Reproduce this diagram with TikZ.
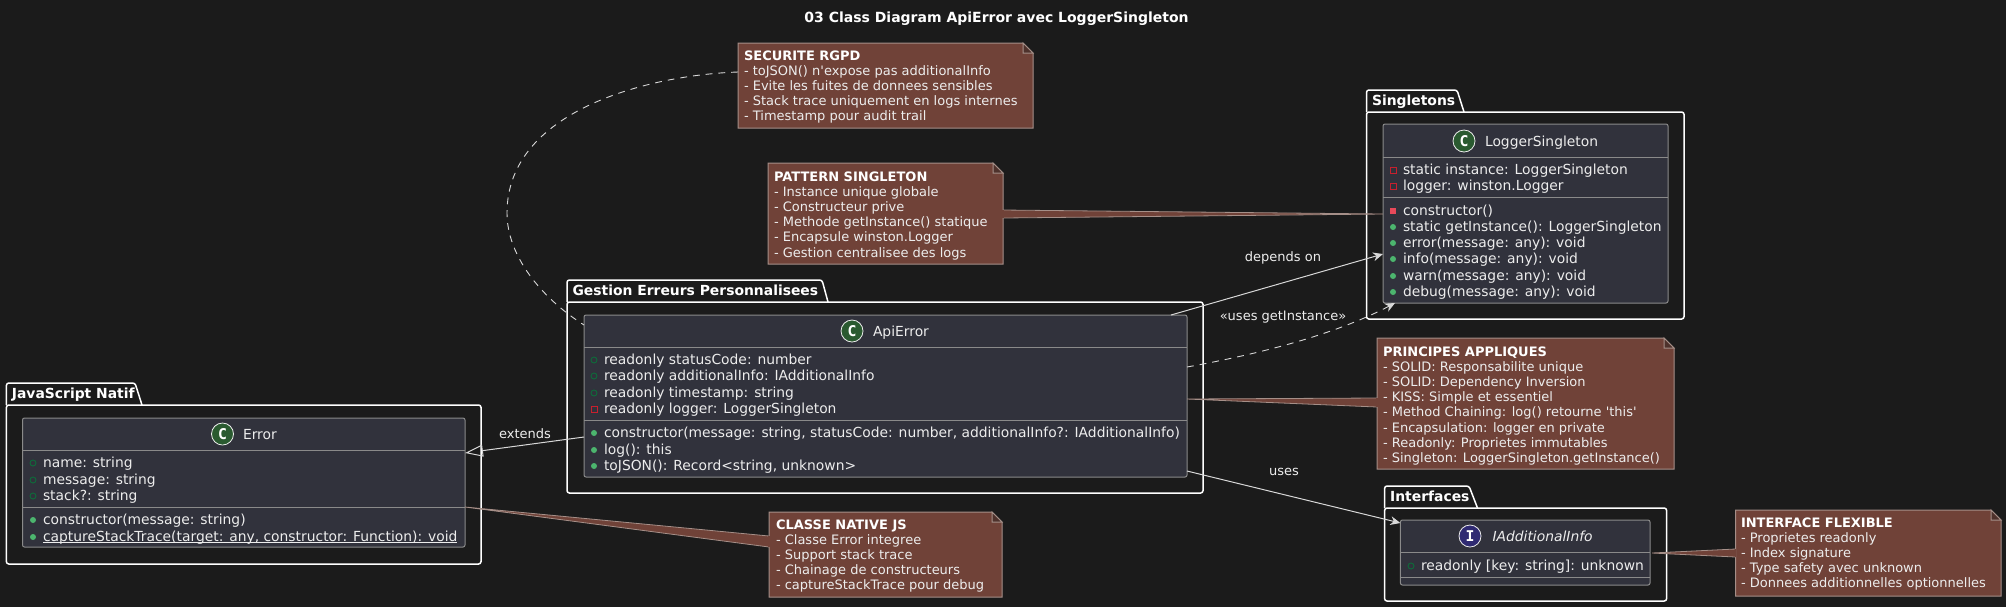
\documentclass[tikz,border=0pt]{standalone}
\usepackage{fontspec}
\setmainfont{DejaVu Sans}
\newfontfamily\glyphfont{DejaVu Sans Mono}
\newfontfamily\straightq{DejaVu Sans}
\newcommand{\sq}{{\straightq'}}
\usetikzlibrary{arrows.meta,calc}
\definecolor{bgc}{HTML}{1B1B1B}
\definecolor{classfill}{HTML}{31323C}
\definecolor{classline}{HTML}{8A8A8A}
\definecolor{notefill}{HTML}{704238}
\definecolor{noteline}{HTML}{A58F88}
\definecolor{txt}{HTML}{EDEDED}
\definecolor{edgec}{HTML}{D8D8D8}
\definecolor{badgegreen}{HTML}{2A5A30}
\definecolor{badgeblue}{HTML}{2F2A72}
\definecolor{gdark}{HTML}{0E6B3A}
\definecolor{glight}{HTML}{4CB56E}
\definecolor{rdark}{HTML}{C8202E}
\definecolor{rlight}{HTML}{E8495A}
\newcounter{memc}
\tikzset{
  x=0.5pt,y=-0.5pt,
  every node/.style={inner sep=0pt,outer sep=0pt,text=txt,font=\fontsize{6.93}{7.6}\selectfont},
  pkgbox/.style={draw=white,line width=0.75pt,rounded corners=1.2pt},
  classbox/.style={draw=classline,fill=classfill,line width=0.5pt,rounded corners=1pt},
  notebox/.style={},
  notetext/.style={align=left,anchor=north west,font=\fontsize{6.5}{7.6}\selectfont},
  boldlabel/.style={anchor=base west,text=white,font=\fontsize{6.95}{7.6}\selectfont\bfseries},
  rowtext/.style={anchor=base west},
  sepline/.style={draw=classline,line width=0.5pt},
  edgelabel/.style={anchor=center,font=\fontsize{6.5}{7.6}\selectfont},
  assoc/.style={draw=edgec,line width=0.5pt,-{Stealth[length=5pt,width=4.4pt,inset=1.6pt]}},
  dashline/.style={draw=edgec,line width=0.45pt,dash pattern=on 3.4pt off 3pt},
  inherit/.style={draw=edgec,line width=0.5pt,-{Triangle[open,length=9pt,width=6pt]}},
  badge/.style={circle,draw=txt,line width=0.4pt,minimum size=11pt,text=white,font=\glyphfont\bfseries\fontsize{7.4}{8}\selectfont},
}
\newcommand{\boxnode}[6]{% style,name,x1,y1,x2,y2
  \pgfmathsetmacro\bw{abs(#5-#3)*0.5}\pgfmathsetmacro\bh{abs(#6-#4)*0.5}
  \node[#1,minimum width=\bw pt,minimum height=\bh pt] (#2) at ({(#3+#5)/2},{(#4+#6)/2}) {};
}
\newcommand{\mfo}[2]{\draw[draw=gdark,line width=0.45pt] (#1,#2+1) circle[radius=3];}
\newcommand{\mfc}[2]{\fill[fill=glight] (#1,#2+1) circle[radius=3];}
\newcommand{\pfo}[2]{\draw[draw=rdark,line width=0.45pt] (#1-3,#2-2) rectangle (#1+3,#2+4);}
\newcommand{\pfc}[2]{\fill[fill=rlight] (#1-3,#2-2) rectangle (#1+3,#2+4);}
\newcommand{\member}[4]{#1{#2}{#3}\stepcounter{memc}\node[rowtext] (m\arabic{memc}) at (#2+10,#3+5) {#4};}
\newcommand{\ulined}[1]{\setbox0\hbox{#1}\rlap{\rule[-1.1pt]{\wd0}{0.45pt}}\box0}
\newcommand{\pkg}[9]{% name,title,x1,ytab,tabr,tabr2,ybody,x2,ybot
  \boxnode{pkgbox}{#1}{#3}{#7}{#8}{#9}
  \draw[white,line width=0.75pt,rounded corners=1.2pt,line join=round] (#3,#7)--(#3,#4)--(#5,#4)--(#6,#7);
  \node[boldlabel] (#1t) at (#3+5.5,#7-7) {#2};
}
\newcommand{\classnode}[7]{% name,x1,y1,x2,y2,sep1,sep2
  \boxnode{classbox}{#1}{#2}{#3}{#4}{#5}
  \draw[sepline] (#2,#6)--(#4,#6);
  \draw[sepline] (#2,#7)--(#4,#7);
}
\newcommand{\notenode}[8]{% name,x1,y1,x2,y2,tx,ty,text
  \boxnode{notebox}{#1}{#2}{#3}{#4}{#5}
  \draw[draw=noteline,fill=notefill,line width=0.5pt] (#1.north west)--([shift={(-10,0)}]#1.north east)--([shift={(0,10)}]#1.north east)--(#1.south east)--(#1.south west)--cycle;
  \draw[draw=noteline,fill=bgc!40!notefill,line width=0.5pt] ([shift={(-10,0)}]#1.north east)--([shift={(-10,10)}]#1.north east)--([shift={(0,10)}]#1.north east)--cycle;
  \node[notetext] (#1t) at (#6,#7) {#8};
}
\newcommand{\notelink}[3]{% tip,b1,b2
  \fill[notefill] #1--#2--#3--cycle;
  \draw[noteline,line width=0.4pt] #2--#1--#3;
  \draw[notefill,line width=0.6pt] #2--#3;
}
\newcommand{\hd}[1]{{\bfseries\color{white}#1}}
\begin{document}
\begin{tikzpicture}
\useasboundingbox (0,0) rectangle (2006,607);
\fill[bgc] (0,0) rectangle (2006,607);
\node[anchor=center,text=white,font=\fontsize{7}{7.6}\selectfont\bfseries] (title) at (996.5,19) {03 Class Diagram ApiError avec LoggerSingleton};
% packages
\pkg{pjs}{JavaScript Natif}{6.4}{383}{135}{142}{405}{481}{564}
\pkg{pge}{Gestion Erreurs Personnalisees}{567}{280}{822}{828}{302}{1203}{493}
\pkg{psi}{Singletons}{1366.5}{90}{1457}{1464}{112}{1684}{319}
\pkg{pin}{Interfaces}{1384.6}{486}{1469}{1477.5}{508}{1666.6}{601}
% classes
\classnode{error}{22.5}{418}{465}{547}{450}{507}
\node[badge,fill=badgegreen] (berror) at (222.5,434) {C};
\node[rowtext] (nerror) at (243,439) {Error};
\member{\mfo}{33}{462}{name: string}
\member{\mfo}{33}{479}{message: string}
\member{\mfo}{33}{495}{stack?: string}
\member{\mfc}{33}{519}{constructor(message: string)}
\member{\mfc}{33}{536}{\ulined{captureStackTrace(target: any, constructor: Function): void}}
\classnode{api}{584}{315}{1187}{477}{347}{420}
\node[badge,fill=badgegreen] (bapi) at (852,331) {C};
\node[rowtext] (napi) at (873,336) {ApiError};
\member{\mfo}{594}{359}{readonly statusCode: number}
\member{\mfo}{594}{375}{readonly additionalInfo: IAdditionalInfo}
\member{\mfo}{594}{392}{readonly timestamp: string}
\member{\pfo}{594}{408}{readonly logger: LoggerSingleton}
\member{\mfc}{594}{432}{constructor(message: string, statusCode: number, additionalInfo?: IAdditionalInfo)}
\member{\mfc}{594}{449}{log(): this}
\member{\mfc}{594}{465}{toJSON(): Record<string, unknown>}
\classnode{logger}{1383}{124}{1668}{303}{157}{197}
\node[badge,fill=badgegreen] (blogger) at (1464,141) {C};
\node[rowtext] (nlogger) at (1485,146) {LoggerSingleton};
\member{\pfo}{1393}{169}{static instance: LoggerSingleton}
\member{\pfo}{1393}{185}{logger: winston.Logger}
\member{\pfc}{1393}{210}{constructor()}
\member{\mfc}{1393}{226}{static getInstance(): LoggerSingleton}
\member{\mfc}{1393}{242}{error(message: any): void}
\member{\mfc}{1393}{258}{info(message: any): void}
\member{\mfc}{1393}{275}{warn(message: any): void}
\member{\mfc}{1393}{291}{debug(message: any): void}
\classnode{iadd}{1400.4}{520}{1650}{585}{552}{577}
\node[badge,fill=badgeblue] (biadd) at (1470,536) {I};
\node[rowtext] (niadd) at (1492.5,541) {\itshape IAdditionalInfo};
\member{\mfo}{1411}{565}{readonly [key: string]: unknown}
% notes
\notenode{nsec}{738}{43}{1033}{128}{744}{50.5}{\hd{SECURITE RGPD}\\- toJSON() n\sq expose pas additionalInfo\\- Evite les fuites de donnees sensibles\\- Stack trace uniquement en logs internes\\- Timestamp pour audit trail}
\notenode{npat}{768}{163}{1003}{264}{774}{171.5}{\hd{PATTERN SINGLETON}\\- Instance unique globale\\- Constructeur prive\\- Methode getInstance() statique\\- Encapsule winston.Logger\\- Gestion centralisee des logs}
\notenode{npri}{1377}{338}{1674}{469}{1383}{346.5}{\hd{PRINCIPES APPLIQUES}\\- SOLID: Responsabilite unique\\- SOLID: Dependency Inversion\\- KISS: Simple et essentiel\\- Method Chaining: log() retourne \sq this\sq\\- Encapsulation: logger en private\\- Readonly: Proprietes immutables\\- Singleton: LoggerSingleton.getInstance()}
\notenode{nint}{1735.5}{510}{2001}{596}{1741}{517.5}{\hd{INTERFACE FLEXIBLE}\\- Proprietes readonly\\- Index signature\\- Type safety avec unknown\\- Donnees additionnelles optionnelles}
\notenode{ncla}{769}{512}{1002}{597}{776}{519.5}{\hd{CLASSE NATIVE JS}\\- Classe Error integree\\- Support stack trace\\- Chainage de constructeurs\\- captureStackTrace pour debug}
% note links
\notelink{([shift={(0,90)}]logger.north west)}{([shift={(0,47)}]npat.north east)}{([shift={(0,55)}]npat.north east)}
\notelink{([shift={(0,84)}]api.north east)}{([shift={(0,60)}]npri.north west)}{([shift={(0,69)}]npri.north west)}
\notelink{([shift={(0,89)}]error.north east)}{([shift={(0,24)}]ncla.north west)}{([shift={(0,35)}]ncla.north west)}
\notelink{([shift={(2,33)}]iadd.north east)}{([shift={(0,39)}]nint.north west)}{([shift={(0,47)}]nint.north west)}
% connectors
\draw[assoc] ([shift={(-16,0)}]api.north east) -- ([shift={(0,130)}]logger.north west);
\draw[dashline,-{Stealth[length=5pt,width=4.4pt,inset=1.6pt]}] ([shift={(0,52)}]api.north east) .. controls (1270,352) and (1340,332) .. ([shift={(12,0)}]logger.south west);
\draw[assoc] ([shift={(0,-6)}]api.south east) -- ([shift={(0,3)}]iadd.north west);
\draw[inherit] ([shift={(0,-40)}]api.south west) -- ([shift={(0,35)}]error.north east);
\draw[dashline] ([shift={(0,29)}]nsec.north west) .. controls (650,75) and (507,110) .. (507,213) .. controls (507,255) and (540,297) .. ([shift={(0,10)}]api.north west);
% labels
\node[edgelabel] (ldep) at (1283,258) {depends on};
\node[edgelabel] (luse) at (1283,317) {«uses getInstance»};
\node[edgelabel] (luses) at (1284,472) {uses};
\node[edgelabel] (lext) at (525,434) {extends};
\end{tikzpicture}
\end{document}
